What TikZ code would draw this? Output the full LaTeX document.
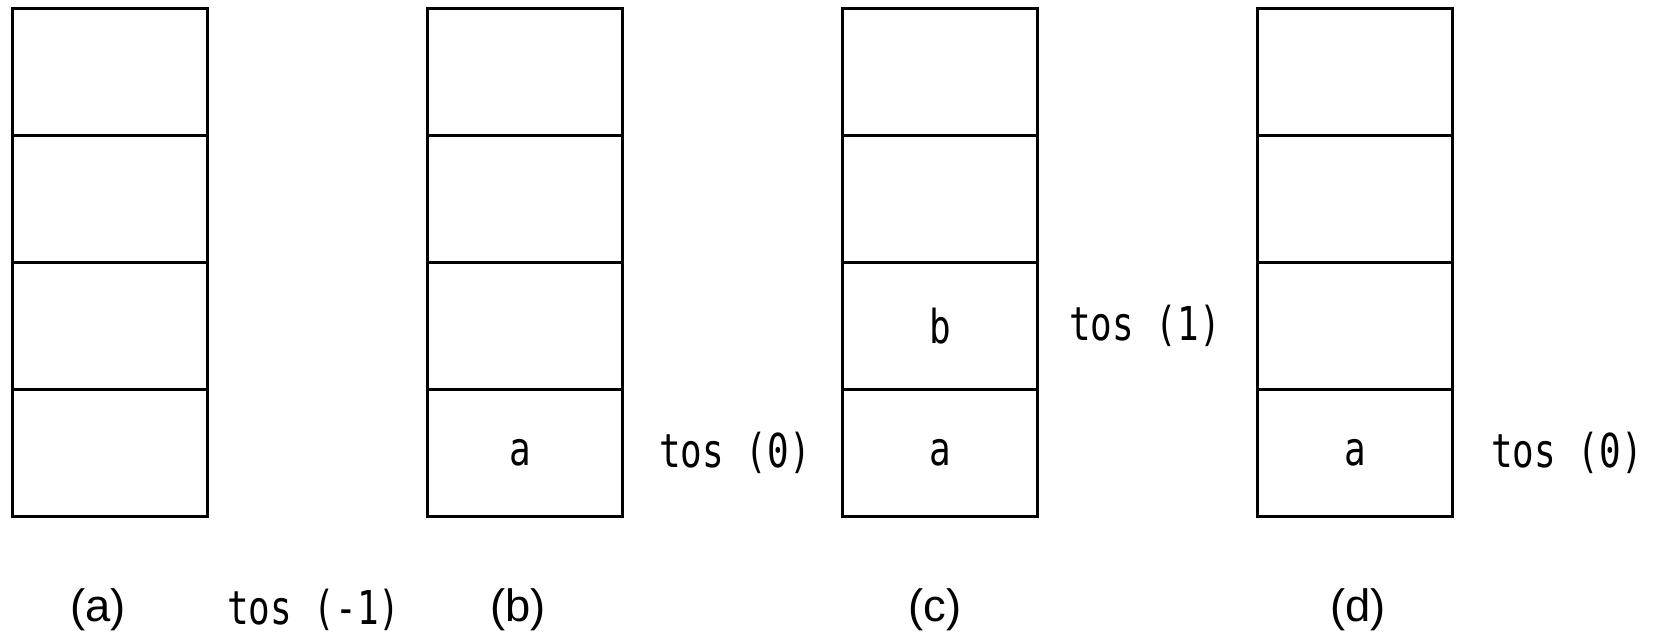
\documentclass[tikz,border=0pt]{standalone}
\usepackage{fontspec}
\setmainfont{Liberation Sans}
\newfontfamily\stackmono[FakeStretch=0.77]{DejaVu Sans Mono}
\usepackage{tikz}

\tikzset{
  cell/.style={draw, line width=1.8pt, minimum width=146.25pt, minimum height=95.25pt, inner sep=0pt, outer sep=0pt},
  celltext/.style={font=\stackmono\fontsize{35}{40}\selectfont, inner sep=0pt},
  caption/.style={font=\fontsize{34}{40}\selectfont, inner sep=0pt}
}

\begin{document}
\begin{tikzpicture}[x=0.75pt,y=0.75pt,yscale=-1,xscale=1]
\useasboundingbox (0,0) rectangle (1658,636);

%Stack (a)
\node [cell] (a1) at (110,72) {};
\node [cell] (a2) at (110,199) {};
\node [cell] (a3) at (110,326) {};
\node [cell] (a4) at (110,453) {};
%Stack (b)
\node [cell] (b1) at (525,72) {};
\node [cell] (b2) at (525,199) {};
\node [cell] (b3) at (525,326) {};
\node [cell] (b4) at (525,453) {};
%Stack (c)
\node [cell] (c1) at (940,72) {};
\node [cell] (c2) at (940,199) {};
\node [cell] (c3) at (940,326) {};
\node [cell] (c4) at (940,453) {};
%Stack (d)
\node [cell] (d1) at (1355,72) {};
\node [cell] (d2) at (1355,199) {};
\node [cell] (d3) at (1355,326) {};
\node [cell] (d4) at (1355,453) {};

% Text Node
\node [celltext] (vb4) at (520,453) {a};
\node [celltext] (vc3) at (940,326) {b};
\node [celltext] (vc4) at (940,453) {a};
\node [celltext] (vd4) at (1355,453) {a};

% Text Node
\node [celltext, anchor=west] (tosa) at (227,610) {tos (-1)};
\node [celltext, anchor=west] (tosb) at (659,453) {tos (0)};
\node [celltext, anchor=west] (tosc) at (1069,326) {tos (1)};
\node [celltext, anchor=west] (tosd) at (1491,453) {tos (0)};

% Text Node
\node [caption] (capa) at (98,610) {(a)};
\node [caption] (capb) at (518,610) {(b)};
\node [caption] (capc) at (935,610) {(c)};
\node [caption] (capd) at (1358,610) {(d)};

\end{tikzpicture}
\end{document}
